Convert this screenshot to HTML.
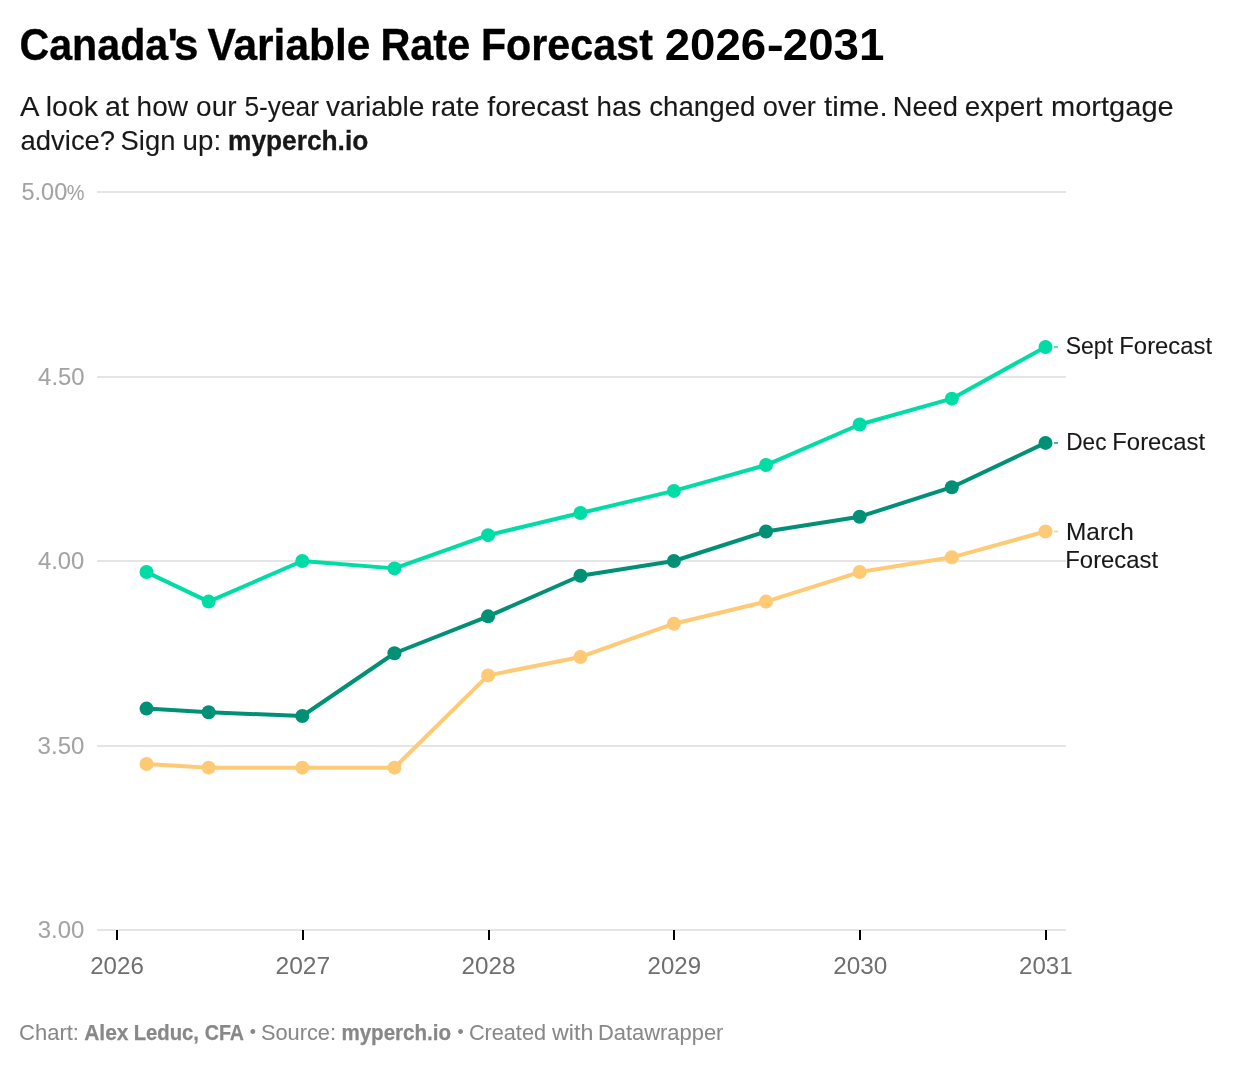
<!DOCTYPE html>
<html lang="en"><head><meta charset="utf-8"><title>Canada's Variable Rate Forecast 2026-2031</title>
<style>
html,body{margin:0;padding:0;background:#fff;}
body{width:1240px;height:1066px;overflow:hidden;font-family:"Liberation Sans",sans-serif;}
svg{display:block;}
text{font-family:"Liberation Sans",sans-serif;white-space:pre;}
.t{font-weight:700;font-size:44.0px;fill:#000;stroke:#000;stroke-width:0.33px;}
.d{font-size:28.0px;fill:#181818;stroke:#181818;stroke-width:0.1px;}
.b{font-weight:700;}
.yl{font-size:24.0px;fill:#a3a3a3;stroke:#a3a3a3;stroke-width:0.05px;}
.pc{font-size:22px;}
.tn{stroke:#fff;stroke-width:0px;}
.xl{font-size:24.0px;fill:#6f6f6f;}
.sl{font-size:24.0px;fill:#181818;stroke:#181818;stroke-width:0.1px;}
.f{font-size:22.0px;fill:#888;stroke:#888;stroke-width:0.05px;}
.d .b{stroke-width:0.3px;}
.f .b{stroke-width:0.25px;}
.bu{font-size:17.5px;}
</style></head><body>
<svg width="1240" height="1066" viewBox="0 0 1240 1066">
<rect width="1240" height="1066" fill="#fff"/>
<text class="t" y="60.0"><tspan x="19.4" y="60.0" textLength="148.9" lengthAdjust="spacingAndGlyphs">Canada</tspan><tspan x="167.6 174.0" y="60.0">'s</tspan> <tspan x="207.5" y="60.0" textLength="162.8" lengthAdjust="spacingAndGlyphs">Variable</tspan> <tspan x="380.4" y="60.0" textLength="89.8" lengthAdjust="spacingAndGlyphs">Rate</tspan> <tspan x="480.9" y="60.0" textLength="172.0" lengthAdjust="spacingAndGlyphs">Forecast</tspan> <tspan class="tn" x="664.7" y="60.0" textLength="101.5" lengthAdjust="spacingAndGlyphs">2026</tspan><tspan class="tn" x="766.8" y="60.0" textLength="17.0" lengthAdjust="spacingAndGlyphs">-</tspan><tspan class="tn" x="782.8" y="60.0" textLength="101.5" lengthAdjust="spacingAndGlyphs">2031</tspan></text>
<text class="d" y="116.0"><tspan x="19.9" y="116.0" textLength="17.9" lengthAdjust="spacingAndGlyphs">A</tspan> <tspan x="45.8" y="116.0" textLength="52.1" lengthAdjust="spacingAndGlyphs">look</tspan> <tspan x="105.1" y="116.0" textLength="23.9" lengthAdjust="spacingAndGlyphs">at</tspan> <tspan x="136.6" y="116.0" textLength="51.4" lengthAdjust="spacingAndGlyphs">how</tspan> <tspan x="196.1" y="116.0" textLength="40.4" lengthAdjust="spacingAndGlyphs">our</tspan> <tspan x="244.4" y="116.0" textLength="74.6" lengthAdjust="spacingAndGlyphs">5-year</tspan> <tspan x="325.9" y="116.0" textLength="98.6" lengthAdjust="spacingAndGlyphs">variable</tspan> <tspan x="431.1" y="116.0" textLength="48.5" lengthAdjust="spacingAndGlyphs">rate</tspan> <tspan x="487.3" y="116.0" textLength="101.2" lengthAdjust="spacingAndGlyphs">forecast</tspan> <tspan x="596.6" y="116.0" textLength="44.7" lengthAdjust="spacingAndGlyphs">has</tspan> <tspan x="649.2" y="116.0" textLength="106.3" lengthAdjust="spacingAndGlyphs">changed</tspan> <tspan x="762.8" y="116.0" textLength="53.1" lengthAdjust="spacingAndGlyphs">over</tspan> <tspan x="824.0" y="116.0" textLength="63.6" lengthAdjust="spacingAndGlyphs">time.</tspan> <tspan x="892.7" y="116.0" textLength="65.2" lengthAdjust="spacingAndGlyphs">Need</tspan> <tspan x="964.8" y="116.0" textLength="77.6" lengthAdjust="spacingAndGlyphs">expert</tspan> <tspan x="1051.0" y="116.0" textLength="122.7" lengthAdjust="spacingAndGlyphs">mortgage</tspan></text>
<text class="d" y="149.5"><tspan x="20.6" y="149.5" textLength="94.5" lengthAdjust="spacingAndGlyphs">advice?</tspan> <tspan x="120.6" y="149.5" textLength="54.8" lengthAdjust="spacingAndGlyphs">Sign</tspan> <tspan x="182.6" y="149.5" textLength="38.5" lengthAdjust="spacingAndGlyphs">up:</tspan> <tspan class="b" x="228.0" y="149.5" textLength="140.3" lengthAdjust="spacingAndGlyphs">myperch.io</tspan></text>
<line x1="97" x2="1066" y1="192" y2="192" stroke="#e5e5e5" stroke-width="2"/>
<text class="yl" y="200.0"><tspan x="21.4" y="200.0" textLength="45.9" lengthAdjust="spacingAndGlyphs">5.00</tspan><tspan class="pc" x="66.7" y="200.0" textLength="17.7" lengthAdjust="spacingAndGlyphs">%</tspan></text>
<line x1="97" x2="1066" y1="377" y2="377" stroke="#e5e5e5" stroke-width="2"/>
<text class="yl" y="385.0"><tspan x="38.1" y="385.0" textLength="46.5" lengthAdjust="spacingAndGlyphs">4.50</tspan></text>
<line x1="97" x2="1066" y1="561" y2="561" stroke="#e5e5e5" stroke-width="2"/>
<text class="yl" y="569.0"><tspan x="37.9" y="569.0" textLength="46.4" lengthAdjust="spacingAndGlyphs">4.00</tspan></text>
<line x1="97" x2="1066" y1="746" y2="746" stroke="#e5e5e5" stroke-width="2"/>
<text class="yl" y="754.0"><tspan x="37.6" y="754.0" textLength="46.8" lengthAdjust="spacingAndGlyphs">3.50</tspan></text>
<line x1="97" x2="1066" y1="930" y2="930" stroke="#e5e5e5" stroke-width="2"/>
<text class="yl" y="938.0"><tspan x="37.7" y="938.0" textLength="46.6" lengthAdjust="spacingAndGlyphs">3.00</tspan></text>
<line x1="117" x2="117" y1="930" y2="940" stroke="#000" stroke-width="2"/>
<text class="xl" y="974.0"><tspan x="90.2" y="974.0" textLength="53.7" lengthAdjust="spacingAndGlyphs">2026</tspan></text>
<line x1="303" x2="303" y1="930" y2="940" stroke="#000" stroke-width="2"/>
<text class="xl" y="974.0"><tspan x="275.5" y="974.0" textLength="54.7" lengthAdjust="spacingAndGlyphs">2027</tspan></text>
<line x1="489" x2="489" y1="930" y2="940" stroke="#000" stroke-width="2"/>
<text class="xl" y="974.0"><tspan x="461.5" y="974.0" textLength="53.9" lengthAdjust="spacingAndGlyphs">2028</tspan></text>
<line x1="674" x2="674" y1="930" y2="940" stroke="#000" stroke-width="2"/>
<text class="xl" y="974.0"><tspan x="647.6" y="974.0" textLength="53.4" lengthAdjust="spacingAndGlyphs">2029</tspan></text>
<line x1="860" x2="860" y1="930" y2="940" stroke="#000" stroke-width="2"/>
<text class="xl" y="974.0"><tspan x="833.2" y="974.0" textLength="54.1" lengthAdjust="spacingAndGlyphs">2030</tspan></text>
<line x1="1046" x2="1046" y1="930" y2="940" stroke="#000" stroke-width="2"/>
<text class="xl" y="974.0"><tspan x="1019.0" y="974.0" textLength="53.6" lengthAdjust="spacingAndGlyphs">2031</tspan></text>
<polyline points="146.52,763.95 208.63,767.64 302.29,767.64 394.43,767.64 488.09,675.39 580.48,656.94 673.89,623.73 766.03,601.59 859.69,572.07 951.83,557.31 1045.49,531.48" fill="none" stroke="#ffca76" stroke-width="4" stroke-linejoin="round" stroke-linecap="round"/>
<circle cx="146.52" cy="763.95" r="7" fill="#ffca76"/>
<circle cx="208.63" cy="767.64" r="7" fill="#ffca76"/>
<circle cx="302.29" cy="767.64" r="7" fill="#ffca76"/>
<circle cx="394.43" cy="767.64" r="7" fill="#ffca76"/>
<circle cx="488.09" cy="675.39" r="7" fill="#ffca76"/>
<circle cx="580.48" cy="656.94" r="7" fill="#ffca76"/>
<circle cx="673.89" cy="623.73" r="7" fill="#ffca76"/>
<circle cx="766.03" cy="601.59" r="7" fill="#ffca76"/>
<circle cx="859.69" cy="572.07" r="7" fill="#ffca76"/>
<circle cx="951.83" cy="557.31" r="7" fill="#ffca76"/>
<circle cx="1045.49" cy="531.48" r="7" fill="#ffca76"/>
<line x1="1054" x2="1058" y1="531.48" y2="531.48" stroke="#ffca76" stroke-width="1.6" opacity="0.85"/>
<polyline points="146.52,572.07 208.63,601.59 302.29,561.00 394.43,568.38 488.09,535.17 580.48,513.03 673.89,490.89 766.03,465.06 859.69,424.47 951.83,398.64 1045.49,346.98" fill="none" stroke="#00dca6" stroke-width="4" stroke-linejoin="round" stroke-linecap="round"/>
<circle cx="146.52" cy="572.07" r="7" fill="#00dca6"/>
<circle cx="208.63" cy="601.59" r="7" fill="#00dca6"/>
<circle cx="302.29" cy="561.00" r="7" fill="#00dca6"/>
<circle cx="394.43" cy="568.38" r="7" fill="#00dca6"/>
<circle cx="488.09" cy="535.17" r="7" fill="#00dca6"/>
<circle cx="580.48" cy="513.03" r="7" fill="#00dca6"/>
<circle cx="673.89" cy="490.89" r="7" fill="#00dca6"/>
<circle cx="766.03" cy="465.06" r="7" fill="#00dca6"/>
<circle cx="859.69" cy="424.47" r="7" fill="#00dca6"/>
<circle cx="951.83" cy="398.64" r="7" fill="#00dca6"/>
<circle cx="1045.49" cy="346.98" r="7" fill="#00dca6"/>
<line x1="1054" x2="1058" y1="346.98" y2="346.98" stroke="#00dca6" stroke-width="1.6" opacity="0.85"/>
<polyline points="146.52,708.60 208.63,712.29 302.29,715.98 394.43,653.25 488.09,616.35 580.48,575.76 673.89,561.00 766.03,531.48 859.69,516.72 951.83,487.20 1045.49,442.92" fill="none" stroke="#009076" stroke-width="4" stroke-linejoin="round" stroke-linecap="round"/>
<circle cx="146.52" cy="708.60" r="7" fill="#009076"/>
<circle cx="208.63" cy="712.29" r="7" fill="#009076"/>
<circle cx="302.29" cy="715.98" r="7" fill="#009076"/>
<circle cx="394.43" cy="653.25" r="7" fill="#009076"/>
<circle cx="488.09" cy="616.35" r="7" fill="#009076"/>
<circle cx="580.48" cy="575.76" r="7" fill="#009076"/>
<circle cx="673.89" cy="561.00" r="7" fill="#009076"/>
<circle cx="766.03" cy="531.48" r="7" fill="#009076"/>
<circle cx="859.69" cy="516.72" r="7" fill="#009076"/>
<circle cx="951.83" cy="487.20" r="7" fill="#009076"/>
<circle cx="1045.49" cy="442.92" r="7" fill="#009076"/>
<line x1="1054" x2="1058" y1="442.92" y2="442.92" stroke="#009076" stroke-width="1.6" opacity="0.85"/>
<text class="sl" y="354.0"><tspan x="1065.7" y="354.0" textLength="47.4" lengthAdjust="spacingAndGlyphs">Sept</tspan> <tspan x="1119.3" y="354.0" textLength="92.8" lengthAdjust="spacingAndGlyphs">Forecast</tspan></text>
<text class="sl" y="450.0"><tspan x="1066.3" y="450.0" textLength="40.2" lengthAdjust="spacingAndGlyphs">Dec</tspan> <tspan x="1112.3" y="450.0" textLength="92.8" lengthAdjust="spacingAndGlyphs">Forecast</tspan></text>
<text class="sl" y="540.0"><tspan x="1066.0" y="540.0" textLength="67.8" lengthAdjust="spacingAndGlyphs">March</tspan></text>
<text class="sl" y="568.0"><tspan x="1065.3" y="568.0" textLength="92.8" lengthAdjust="spacingAndGlyphs">Forecast</tspan></text>
<text class="f" y="1040.0"><tspan x="19.0" y="1040.0" textLength="60.0" lengthAdjust="spacingAndGlyphs">Chart:</tspan> <tspan class="b" x="84.2" y="1040.0" textLength="44.3" lengthAdjust="spacingAndGlyphs">Alex</tspan> <tspan class="b" x="133.7" y="1040.0" textLength="65.3" lengthAdjust="spacingAndGlyphs">Leduc,</tspan> <tspan class="b" x="204.7" y="1040.0" textLength="39.3" lengthAdjust="spacingAndGlyphs">CFA</tspan> <tspan class="bu" x="249.7" y="1037.5">•</tspan> <tspan x="261.0" y="1040.0" textLength="75.0" lengthAdjust="spacingAndGlyphs">Source:</tspan> <tspan class="b" x="341.4" y="1040.0" textLength="109.7" lengthAdjust="spacingAndGlyphs">myperch.io</tspan> <tspan class="bu" x="457.6" y="1037.5">•</tspan> <tspan x="468.9" y="1040.0" textLength="77.1" lengthAdjust="spacingAndGlyphs">Created</tspan> <tspan x="552.1" y="1040.0" textLength="41.2" lengthAdjust="spacingAndGlyphs">with</tspan> <tspan x="597.9" y="1040.0" textLength="125.5" lengthAdjust="spacingAndGlyphs">Datawrapper</tspan></text>
</svg></body></html>
